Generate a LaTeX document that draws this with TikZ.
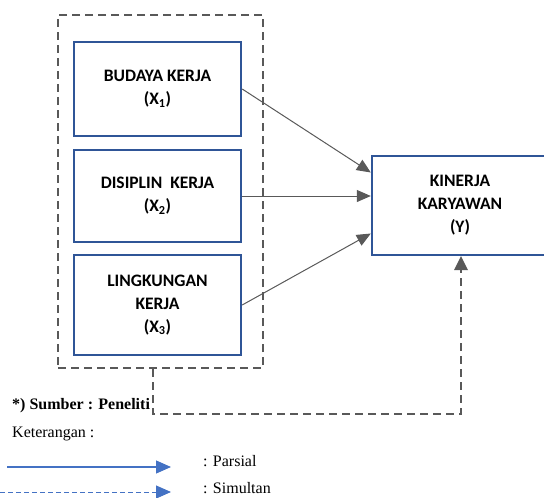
\documentclass[tikz,border=0pt]{standalone}
\usepackage{fontspec}
\setmainfont{Liberation Serif}
\newfontfamily\calibri{Carlito}
\usetikzlibrary{arrows.meta}
\definecolor{boxblue}{RGB}{47,85,151}
\definecolor{lineblue}{RGB}{68,114,196}
\definecolor{darkgray}{RGB}{89,89,89}
\tikzset{
  var/.style={draw=boxblue,line width=2.4pt,align=center,inner sep=0pt,
    font=\calibri\bfseries\fontsize{17.5}{23}\selectfont},
  parsial/.style={draw=darkgray,line width=1pt,-{Triangle[length=14pt,width=12pt]}},
  grpbox/.style={draw=darkgray,line width=2.8pt,dash pattern=on 8pt off 5pt},
  simul/.style={draw=darkgray,line width=2.8pt,dash pattern=on 8pt off 5pt},
  legtext/.style={anchor=west,inner sep=0pt,font=\fontsize{16}{18}\selectfont}
}
\begin{document}
\begin{tikzpicture}[x=1pt,y=-1pt]
    \useasboundingbox (0,0) rectangle (544,498);
    \node[grpbox,minimum width=205pt,minimum height=353pt] (grp) at (160.5,191.5) {};
    \node[var,minimum width=167pt,minimum height=94pt] (X1) at (157.5,89) {\rule{0pt}{8pt}BUDAYA KERJA\\(X\textsubscript{1})};
    \node[var,minimum width=167pt,minimum height=92pt] (X2) at (157.5,196) {\rule{0pt}{8pt}DISIPLIN\ \ KERJA\\(X\textsubscript{2})};
    \node[var,minimum width=167pt,minimum height=100pt] (X3) at (157.5,305) {\rule{0pt}{8pt}LINGKUNGAN\\KERJA\\(X\textsubscript{3})};
    \node[var,minimum width=176pt,minimum height=99pt] (Y) at (460,205.5) {\rule{0pt}{8pt}KINERJA\\KARYAWAN\\(Y)};
    % partial paths
    \draw[parsial] (X1.east) -- ([yshift=33pt]Y.west);
    \draw[parsial] (X2.east) -- (Y.west |- X2.east);
    \draw[parsial] (X3.east) -- ([yshift=-28pt]Y.west);
    % simultaneous path
    \coordinate (sA) at (153,414);
    \coordinate (sB) at (461,414);
    \draw[simul] (sA |- grp.south) -- (sA) -- (sB) -- ([yshift=-14pt]sB |- Y.south);
    \fill[darkgray] (sB |- Y.south) -- ++(-7,14) -- ++(14,0) -- cycle;
    % legend
    \node[legtext] (src) at (12,406) {\bfseries *) Sumber : Peneliti};
    \node[legtext] (ket) at (12,434) {Keterangan :};
    \coordinate (pA) at (7,467);
    \coordinate (pB) at (171,467);
    \coordinate (sC) at (0,492);
    \coordinate (sD) at (171,492);
    \draw[lineblue,line width=1.2pt,-{Triangle[length=15pt,width=13pt]}] (pA) -- (pB);
    \draw[lineblue,line width=1pt,dash pattern=on 5pt off 3pt,-{Triangle[length=15pt,width=13pt]}] (sC) -- (sD);
    \node[legtext] (lp) at (203,461) {: Parsial};
    \node[legtext] (ls) at (203,488) {: Simultan};
\end{tikzpicture}
\end{document}
